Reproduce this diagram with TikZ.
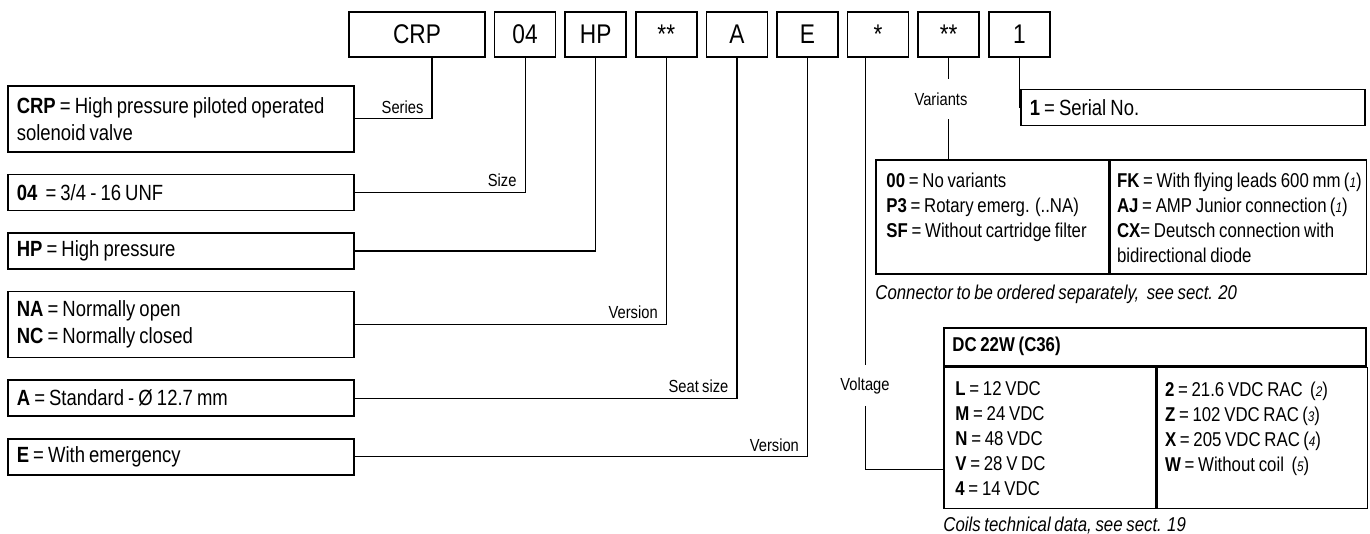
\documentclass[tikz,border=0pt]{standalone}
\usepackage{fontspec}
\setmainfont{Liberation Sans}[FakeStretch=0.84, WordSpace=0.8]
\usetikzlibrary{positioning}
\newcommand{\smallnum}[1]{{\fontsize{7}{7}\selectfont\itshape #1}}

\begin{document}
\begin{tikzpicture}[
    x=0.5pt, y=-0.5pt,
    node distance=4pt,
    codebox/.style={rectangle, draw, line width=0.8pt, minimum width=30.5pt, minimum height=22.5pt, inner sep=0pt, font=\fontsize{13.5}{13.5}\selectfont},
    descbox/.style={rectangle, draw, line width=0.8pt, text width=164pt, inner xsep=4.5pt, inner ysep=0pt, minimum height=18pt, align=flush left, font=\fontsize{11}{13.5}\selectfont},
    cell/.style={rectangle, draw, line width=0.8pt, inner sep=0pt, anchor=north west},
    celltext/.style={inner sep=0pt, anchor=north west, align=left, font=\fontsize{10}{12.5}\selectfont},
    lbl/.style={inner xsep=4pt, inner ysep=2.5pt, font=\fontsize{8.75}{8.75}\selectfont},
    link/.style={line width=0.6pt},
    note/.style={inner sep=0pt, anchor=west, font=\fontsize{10}{12}\selectfont\itshape}
]
\useasboundingbox (0,0) rectangle (1370,534);

\node[codebox, minimum width=68pt] (crp) at (417,34.5) {CRP};
\node[codebox, right=of crp] (size) {04};
\node[codebox, right=of size] (hp) {HP};
\node[codebox, right=of hp] (vers) {**};
\node[codebox, right=of vers] (seat) {A};
\node[codebox, right=of seat] (emerg) {E};
\node[codebox, right=of emerg] (volt) {*};
\node[codebox, right=of volt] (var) {**};
\node[codebox, right=of var] (serial) {1};

\node[descbox, minimum height=33pt, anchor=north west] (dcrp) at (7,85) {\textbf{CRP} = High pressure piloted operated\\solenoid valve};
\node[descbox, below=10.5pt of dcrp] (dsize) {\textbf{04}\ \ = 3/4 - 16 UNF};
\node[descbox, below=10.5pt of dsize] (dhp) {\textbf{HP} = High pressure};
\node[descbox, minimum height=33pt, below=10.5pt of dhp] (dvers) {\textbf{NA} = Normally open\\\textbf{NC} = Normally closed};
\node[descbox, below=10.5pt of dvers] (dseat) {\textbf{A} = Standard - Ø 12.7 mm};
\node[descbox, below=10.5pt of dseat] (demerg) {\textbf{E} = With emergency};

\draw[link] ([xshift=7.5pt]crp.south) |- node[pos=0.5, lbl, anchor=south east] {Series} (dcrp.east);
\draw[link] (size.south) |- node[pos=0.5, lbl, anchor=south east] {Size} (dsize.east);
\draw[link] (hp.south) |- (dhp.east);
\draw[link] (vers.south) |- node[pos=0.5, lbl, anchor=south east] {Version} (dvers.east);
\draw[link] (seat.south) |- node[pos=0.5, lbl, anchor=south east] {Seat size} (dseat.east);
\draw[link] (emerg.south) |- node[pos=0.5, lbl, anchor=south east] {Version} (demerg.east);

\node[descbox, text width=163pt, anchor=west] (dserial) at (1020,107.5) {\textbf{1} = Serial No.};
\draw[link] (serial.south) |- (dserial.west);

\node[cell, minimum width=116.5pt, minimum height=57pt] (varl) at (875,159) {};
\node[cell, minimum width=128pt, minimum height=57pt] (varr) at (varl.north east) {};
\node[celltext] (varltxt) at ([shift={(5.5pt,-7pt)}]varl.north west) {\textbf{00} = No variants\\\textbf{P3} = Rotary emerg. (..NA)\\\textbf{SF} = Without cartridge filter};
\node[celltext] (varrtxt) at ([shift={(3.5pt,-7pt)}]varr.north west) {\textbf{FK} = With flying leads 600 mm\,(\smallnum{1})\\\textbf{AJ} = AMP Junior connection\,(\smallnum{1})\\\textbf{CX}= Deutsch connection with\\bidirectional diode};
\node[note] (connnote) at ([yshift=-10pt]varl.south west) {Connector to be ordered separately,\ \ see sect. 20};

\node[lbl, minimum height=20pt] (varlbl) at (941,99) {Variants};
\draw[link] (var.south) -- (var.south |- varlbl.north);
\draw[link] (var.south |- varlbl.south) -- (var.south |- varl.north);

\node[cell, minimum width=211pt, minimum height=19pt] (dchead) at (943,327) {};
\node[cell, minimum width=106pt, minimum height=70.5pt] (dcl) at (dchead.south west) {};
\node[cell, minimum width=105pt, minimum height=70.5pt] (dcr) at (dcl.north east) {};
\node[celltext, anchor=west, font=\fontsize{10}{12}\selectfont\bfseries] (dctitle) at ([xshift=4.5pt]dchead.west) {DC 22W (C36)};
\node[celltext] (dcltxt) at ([shift={(6pt,-7.5pt)}]dcl.north west) {\textbf{L} = 12 VDC\\\textbf{M} = 24 VDC\\\textbf{N} = 48 VDC\\\textbf{V} = 28 V DC\\\textbf{4} = 14 VDC};
\node[celltext] (dcrtxt) at ([shift={(4pt,-7.5pt)}]dcr.north west) {\textbf{2} = 21.6 VDC RAC\ \ (\smallnum{2})\\\textbf{Z} = 102 VDC RAC\,(\smallnum{3})\\\textbf{X} = 205 VDC RAC\,(\smallnum{4})\\\textbf{W} = Without coil\ \ (\smallnum{5})};
\node[note] (coilnote) at ([yshift=-8pt]dcl.south west) {Coils technical data, see sect. 19};

\node[lbl, minimum height=20pt] (voltlbl) at (865,385.5) {Voltage};
\coordinate (vx) at ([xshift=-6.25pt]volt.south);
\coordinate (vin) at ([yshift=-15.75pt]dcl.west);
\draw[link] (vx) -- (vx |- voltlbl.north);
\draw[link] (vx |- voltlbl.south) |- (vin);
\end{tikzpicture}
\end{document}
